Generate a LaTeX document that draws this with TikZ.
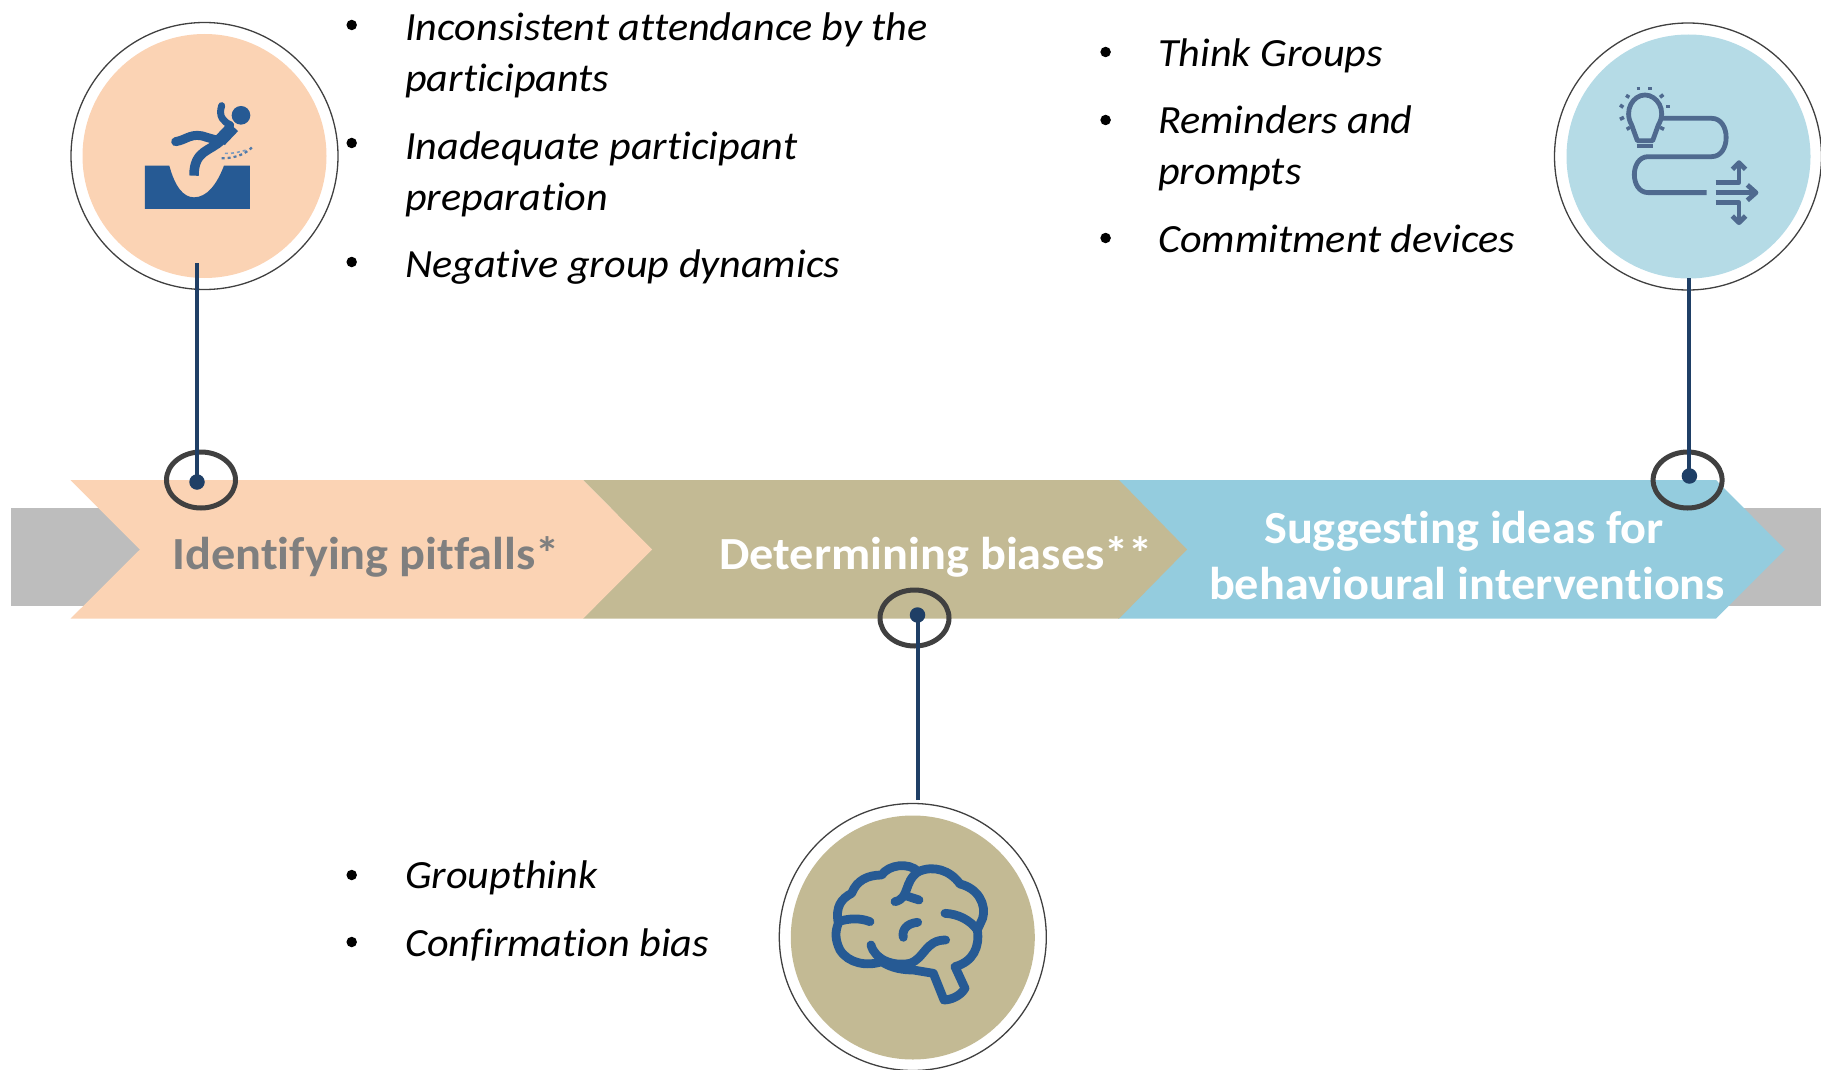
\documentclass[tikz,border=0pt]{standalone}
\usepackage{fontspec}
\usetikzlibrary{shapes.geometric}
\setmainfont{Carlito}
\newfontfamily\cfont[FakeStretch=1.05,Ligatures=NoCommon]{Carlito}
\newfontfamily\ifont[FakeStretch=1.055,Ligatures=NoCommon]{Carlito}
\definecolor{peach}{HTML}{FBD3B4}
\definecolor{tan}{HTML}{C3BA94}
\definecolor{skyb}{HTML}{94CCDE}
\definecolor{skyl}{HTML}{B5DBE6}
\definecolor{barg}{HTML}{BDBDBD}
\definecolor{navy}{HTML}{1F3F66}
\definecolor{ringc}{HTML}{404040}
\definecolor{iconb}{HTML}{265A94}
\definecolor{icons}{HTML}{4F6A8F}
\definecolor{labg}{HTML}{7F7F7F}
\tikzset{
  bigring/.style={circle,draw=ringc,line width=1.3pt,minimum size=267pt,inner sep=0pt},
  bigfill/.style={circle,fill=#1,minimum size=244pt,inner sep=0pt},
  smallring/.style={ellipse,draw=ringc,line width=5pt,minimum width=69pt,minimum height=56pt,inner sep=0pt},
  pin/.style={circle,fill=navy,minimum size=15.5pt,inner sep=0pt},
  link/.style={draw=navy,line width=4pt},
  bul/.style={circle,fill=black,minimum size=10.5pt,inner sep=0pt},
  item/.style={anchor=base west,inner sep=0pt,font=\ifont\fontsize{40}{40}\selectfont\itshape},
  stage/.style={anchor=base,inner sep=0pt,font=\cfont\fontsize{46}{46}\selectfont\bfseries},
  iconline/.style={draw=iconb,line width=8.8pt,line cap=round,line join=round},
  sline/.style={draw=icons,line width=4.8pt,line join=round},
}
\begin{document}
\begin{tikzpicture}[x=1pt,y=-1pt]
\useasboundingbox (0,0) rectangle (1821,1070);
% bar
\fill[barg] (11,508) rectangle (1821,605.7);
% chevrons
\fill[skyb] (1118,480) -- (1716,480) -- (1785,549.5) -- (1716,618.7) -- (1118,618.7) -- (1187,549.5) -- cycle;
\fill[tan] (583,480) -- (1119,480) -- (1187,549.5) -- (1119,618.7) -- (583,618.7) -- (652,549.5) -- cycle;
\fill[peach] (70.5,480) -- (583,480) -- (652,549.5) -- (583,618.7) -- (70.5,618.7) -- (140,549.5) -- cycle;
% stage labels
\node[stage,text=labg] (s1) at (366,569) {Identifying pitfalls*};
\node[stage,text=white] (s2) at (936,569) {Determining biases**};
\node[stage,text=white] (s3a) at (1464,543) {Suggesting ideas for};
\node[stage,text=white] (s3b) at (1467,599.5) {behavioural interventions};
% big circles
\node[bigring] (c1) at (204.5,156) {};
\node[bigfill=peach] (f1) at (204.5,156) {};
\node[bigring] (c3) at (1688,156.5) {};
\node[bigfill=skyl] (f3) at (1688.5,156.5) {};
\node[bigring] (c2) at (912.8,937) {};
\node[bigfill=tan] (f2) at (912.8,937.5) {};
% small rings and pins
\node[smallring] (r1) at (201,480) {};
\node[smallring] (r2) at (914.5,618) {};
\node[smallring] (r3) at (1687.6,480) {};
\node[pin] (p1) at (197,482) {};
\node[pin] (p2) at (917.5,615) {};
\node[pin] (p3) at (1689.4,476) {};
\coordinate (t1) at (197,263);
\coordinate (t2) at (917.5,800);
\coordinate (t3) at (1689.4,278);
\draw[link] (t1) -- (p1.center);
\draw[link] (t2) -- (p2.center);
\draw[link] (t3) -- (p3.center);
% faller icon
\begin{scope}[shift={(60,10)},x=0.3333pt,y=-0.3333pt]
\fill[iconb] (255,467) -- (328,467) .. controls (345,530) and (370,562) .. (402,562) .. controls (440,562) and (470,525) .. (492,467) -- (570,467) -- (570,597) -- (255,597) -- cycle;
\fill[iconb] (543,316) circle (28);
\draw[iconb,line width=9pt,line cap=round,line join=round] (347,395) .. controls (380,390) and (395,365) .. (440,382) -- (475,392);
\draw[iconb,line width=13pt,line cap=butt,line join=round] (520,350) -- (480,392);
\draw[iconb,line width=9.5pt,line cap=butt,line join=round] (485,390) .. controls (450,425) and (402,420) .. (402,497);
\draw[iconb,line width=7pt,line cap=round] (512,345) .. controls (490,335) and (475,320) .. (485,287);
\draw[iconb!80,line width=2.2pt,dashed] (485,445) .. controls (530,445) and (560,430) .. (580,408);
\draw[iconb!60,line width=1.6pt,dashed] (495,430) .. controls (520,432) and (540,425) .. (560,420);
\end{scope}
% bulb icon
\begin{scope}[shift={(1540,10)},x=0.3333pt,y=-0.3333pt]
\draw[sline] (292,392) -- (275,345) .. controls (250,300) and (280,255) .. (315,255) .. controls (350,255) and (382,300) .. (355,345) -- (338,392) -- cycle;
\draw[sline] (290,408) -- (340,408);
\draw[sline] (365,325) -- (515,325) .. controls (573,325) and (573,440) .. (515,440) -- (325,440) .. controls (269,440) and (269,548) .. (325,548) -- (500,548);
\draw[sline] (527,548) -- (645,548);
\draw[sline] (622,525) -- (648,548) -- (622,571);
\draw[sline] (527,517) -- (597,517) -- (597,458);
\draw[sline] (577,478) -- (597,458) -- (617,478);
\draw[sline] (527,578) -- (597,578) -- (597,638);
\draw[sline] (577,618) -- (597,638) -- (617,618);
\foreach \a/\b/\c/\d in {290/236/300/236,325/236/335/236,258/256/268/262,360/262/370/254,378/290/390/290,240/285/250/292,240/328/252/322,260/358/270/352,360/352/372/358}
  \draw[draw=icons,line width=3.5pt] (\a,\b) -- (\c,\d);
\end{scope}
% brain icon
\begin{scope}[shift={(770,790)},x=0.3333pt,y=-0.3333pt]
\draw[iconline] (205,400) .. controls (195,350) and (215,325) .. (245,310) .. controls (260,270) and (295,255) .. (335,255) .. controls (355,225) and (415,215) .. (445,245) .. controls (490,225) and (540,240) .. (570,282) .. controls (625,295) and (650,345) .. (638,385) -- (622,420) .. controls (630,470) and (610,515) .. (555,530) -- (585,595) .. controls (570,620) and (540,630) .. (522,630) -- (490,550) -- (430,540) .. controls (400,540) and (365,535) .. (335,515) .. controls (290,530) and (235,520) .. (210,480) .. controls (195,450) and (195,425) .. (205,400);
\draw[iconline] (205,395) .. controls (235,385) and (270,383) .. (300,395);
\draw[iconline] (525,370) .. controls (565,372) and (600,390) .. (622,420);
\draw[iconline] (375,335) .. controls (420,325) and (400,275) .. (445,245);
\draw[iconline] (410,318) -- (447,330);
\draw[iconline] (400,442) .. controls (395,420) and (410,400) .. (443,397);
\draw[iconline] (303,465) .. controls (315,510) and (370,530) .. (420,520) .. controls (465,505) and (465,450) .. (527,450);
\end{scope}
% bullet lists
\node[bul] (b1) at (351.7,25) {};
\node[item] (i1a) at (405,41) {Inconsistent attendance by the};
\node[item] (i1b) at (405,91.7) {participants};
\node[bul] (b2) at (351.7,143) {};
\node[item] (i2a) at (405,159.3) {Inadequate participant};
\node[item] (i2b) at (405,210) {preparation};
\node[bul] (b3) at (351.7,262) {};
\node[item] (i3) at (405,277) {Negative group dynamics};
\node[bul] (b4) at (1105.6,52) {};
\node[item] (i4) at (1158,66.5) {Think Groups};
\node[bul] (b5) at (1105.6,120) {};
\node[item] (i5a) at (1158,134) {Reminders and};
\node[item] (i5b) at (1158,184.5) {prompts};
\node[bul] (b6) at (1105.6,238) {};
\node[item] (i6) at (1158,252) {Commitment devices};
\node[bul] (b7) at (351.7,875) {};
\node[item] (i7) at (405,888) {Groupthink};
\node[bul] (b8) at (351.7,942) {};
\node[item] (i8) at (405,956) {Confirmation bias};
\end{tikzpicture}
\end{document}
